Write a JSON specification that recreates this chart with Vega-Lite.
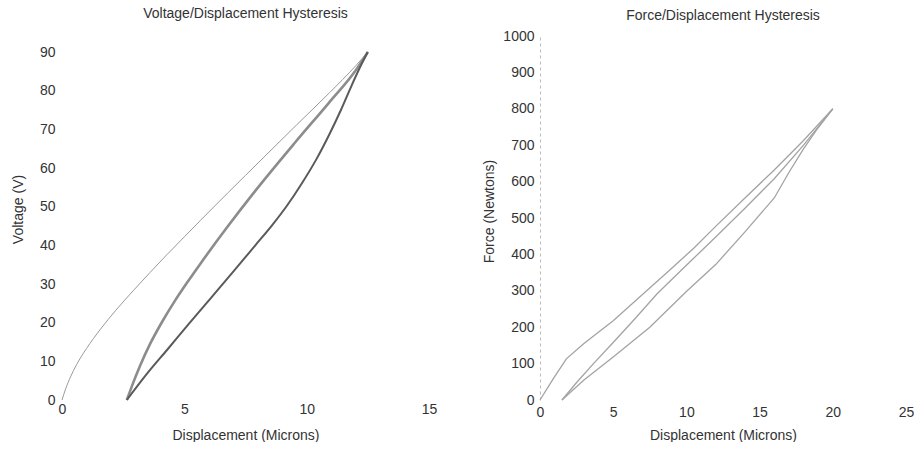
{
  "$schema": "https://vega.github.io/schema/vega-lite/v6.json",
  "background": "white",
  "padding": {"left": 11, "top": 7, "right": 0, "bottom": 0},
  "spacing": 45,
  "config": {
    "font": "Liberation Sans",
    "view": {"stroke": null},
    "axis": {
      "grid": false, "ticks": false, "domain": false,
      "labelFont": "Liberation Sans", "labelFontSize": 14, "labelColor": "#333",
      "titleFont": "Liberation Sans", "titleFontSize": 14, "titleColor": "#333", "titleFontWeight": "normal",
      "labelFlush": false, "labelOverlap": false
    },
    "title": {"font": "Liberation Sans", "fontSize": 14, "fontWeight": "normal", "color": "#333"}
  },
  "datasets": {
    "volt": [
      {"series": "initial", "disp": 0, "volt": 0},
      {"series": "initial", "disp": 0.15, "volt": 2.9},
      {"series": "initial", "disp": 0.35, "volt": 6.0},
      {"series": "initial", "disp": 0.6, "volt": 9.2},
      {"series": "initial", "disp": 1.0, "volt": 13.3},
      {"series": "initial", "disp": 1.57, "volt": 18.3},
      {"series": "initial", "disp": 2.2, "volt": 23.2},
      {"series": "initial", "disp": 2.93, "volt": 28.4},
      {"series": "initial", "disp": 3.6, "volt": 33.0},
      {"series": "initial", "disp": 4.29, "volt": 37.6},
      {"series": "initial", "disp": 5.0, "volt": 42.2},
      {"series": "initial", "disp": 5.65, "volt": 46.4},
      {"series": "initial", "disp": 6.2, "volt": 49.9},
      {"series": "initial", "disp": 6.8, "volt": 53.7},
      {"series": "initial", "disp": 7.5, "volt": 58.1},
      {"series": "initial", "disp": 8.22, "volt": 62.6},
      {"series": "initial", "disp": 9.58, "volt": 71.1},
      {"series": "initial", "disp": 10.94, "volt": 79.5},
      {"series": "initial", "disp": 12.0, "volt": 86.4},
      {"series": "initial", "disp": 12.5, "volt": 90},
      {"series": "upper", "disp": 2.65, "volt": 0},
      {"series": "upper", "disp": 2.9, "volt": 4.3},
      {"series": "upper", "disp": 3.2, "volt": 9.0},
      {"series": "upper", "disp": 3.6, "volt": 14.5},
      {"series": "upper", "disp": 4.1, "volt": 20.3},
      {"series": "upper", "disp": 4.6, "volt": 25.5},
      {"series": "upper", "disp": 5.15, "volt": 30.7},
      {"series": "upper", "disp": 5.65, "volt": 35.2},
      {"series": "upper", "disp": 6.74, "volt": 44.6},
      {"series": "upper", "disp": 7.85, "volt": 53.7},
      {"series": "upper", "disp": 9.5, "volt": 66.4},
      {"series": "upper", "disp": 10.9, "volt": 76.8},
      {"series": "upper", "disp": 12.0, "volt": 85.2},
      {"series": "upper", "disp": 12.5, "volt": 90},
      {"series": "lower", "disp": 2.65, "volt": 0},
      {"series": "lower", "disp": 3.5, "volt": 7.0},
      {"series": "lower", "disp": 4.3, "volt": 13.0},
      {"series": "lower", "disp": 5.2, "volt": 19.8},
      {"series": "lower", "disp": 6.1, "volt": 26.5},
      {"series": "lower", "disp": 7.0, "volt": 33.2},
      {"series": "lower", "disp": 7.9, "volt": 40.0},
      {"series": "lower", "disp": 8.6, "volt": 45.3},
      {"series": "lower", "disp": 9.2, "volt": 50.3},
      {"series": "lower", "disp": 9.8, "volt": 56.0},
      {"series": "lower", "disp": 10.4, "volt": 62.3},
      {"series": "lower", "disp": 10.95, "volt": 69.0},
      {"series": "lower", "disp": 11.4, "volt": 75.0},
      {"series": "lower", "disp": 11.8, "volt": 80.8},
      {"series": "lower", "disp": 12.2, "volt": 86.3},
      {"series": "lower", "disp": 12.5, "volt": 90}
    ],
    "force": [
      {"series": "upper", "disp": 0, "force": 0},
      {"series": "upper", "disp": 0.9, "force": 58},
      {"series": "upper", "disp": 1.8, "force": 113},
      {"series": "upper", "disp": 3, "force": 155},
      {"series": "upper", "disp": 5, "force": 218},
      {"series": "upper", "disp": 7, "force": 290},
      {"series": "upper", "disp": 9, "force": 362},
      {"series": "upper", "disp": 10.5, "force": 417},
      {"series": "upper", "disp": 12, "force": 477},
      {"series": "upper", "disp": 14, "force": 555},
      {"series": "upper", "disp": 16, "force": 632},
      {"series": "upper", "disp": 18, "force": 713},
      {"series": "upper", "disp": 20, "force": 800},
      {"series": "middle", "disp": 1.5, "force": 0},
      {"series": "middle", "disp": 2.5, "force": 48},
      {"series": "middle", "disp": 3.7, "force": 102},
      {"series": "middle", "disp": 5, "force": 158},
      {"series": "middle", "disp": 6.5, "force": 224},
      {"series": "middle", "disp": 8, "force": 292},
      {"series": "middle", "disp": 10, "force": 370},
      {"series": "middle", "disp": 12, "force": 448},
      {"series": "middle", "disp": 14, "force": 527},
      {"series": "middle", "disp": 16, "force": 608},
      {"series": "middle", "disp": 18, "force": 700},
      {"series": "middle", "disp": 20, "force": 800},
      {"series": "lower", "disp": 1.5, "force": 0},
      {"series": "lower", "disp": 3, "force": 55},
      {"series": "lower", "disp": 5, "force": 118},
      {"series": "lower", "disp": 7.5, "force": 200},
      {"series": "lower", "disp": 10, "force": 298},
      {"series": "lower", "disp": 12, "force": 372},
      {"series": "lower", "disp": 14, "force": 462},
      {"series": "lower", "disp": 16, "force": 555},
      {"series": "lower", "disp": 17, "force": 625},
      {"series": "lower", "disp": 18, "force": 690},
      {"series": "lower", "disp": 19, "force": 748},
      {"series": "lower", "disp": 20, "force": 800}
    ],
    "edge": [{"disp": 25}]
  },
  "hconcat": [
    {
      "width": 367,
      "height": 364,
      "title": {"text": "Voltage/Displacement Hysteresis", "offset": 15},
      "data": {"name": "volt"},
      "encoding": {
        "x": {"field": "disp", "type": "quantitative", "scale": {"domain": [0, 15], "nice": false},
              "axis": {"title": "Displacement (Microns)", "values": [0, 5, 10, 15], "labelPadding": 2, "titlePadding": 12}},
        "y": {"field": "volt", "type": "quantitative", "scale": {"domain": [0, 94.14], "nice": false, "zero": true},
              "axis": {"title": "Voltage (V)", "values": [0, 10, 20, 30, 40, 50, 60, 70, 80, 90], "labelPadding": 7,
                       "titleX": -44, "titleY": 173, "titleBaseline": "middle"}}
      },
      "layer": [
        {"transform": [{"filter": "datum.series === 'initial'"}],
         "mark": {"type": "line", "color": "#9a9a9a", "strokeWidth": 1, "interpolate": "monotone"}},
        {"transform": [{"filter": "datum.series === 'upper'"}],
         "mark": {"type": "line", "color": "#8c8c8c", "strokeWidth": 2.6, "interpolate": "monotone"}},
        {"transform": [{"filter": "datum.series === 'lower'"}],
         "mark": {"type": "line", "color": "#5a5a5a", "strokeWidth": 2, "interpolate": "monotone"}}
      ]
    },
    {
      "width": 366,
      "height": 364,
      "title": {"text": "Force/Displacement Hysteresis", "offset": 6},
      "layer": [
        {
          "data": {"name": "edge"},
          "mark": {"type": "rule", "color": "#aaaaaa", "strokeDash": [2, 3], "strokeWidth": 1},
          "encoding": {"x": {"field": "disp", "type": "quantitative"}}
        },
        {
          "data": {"name": "force"},
          "mark": {"type": "line", "color": "#a3a3a3", "strokeWidth": 1.3},
          "encoding": {
            "x": {"field": "disp", "type": "quantitative"},
            "y": {"field": "force", "type": "quantitative"},
            "detail": {"field": "series", "type": "nominal"}
          }
        }
      ],
      "encoding": {
        "x": {"field": "disp", "type": "quantitative", "scale": {"domain": [0, 25], "nice": false},
              "axis": {"title": "Displacement (Microns)", "values": [0, 5, 10, 15, 20, 25], "labelPadding": 5, "titlePadding": 9}},
        "y": {"field": "force", "type": "quantitative", "scale": {"domain": [0, 1000], "nice": false},
              "axis": {"title": "Force (Newtons)", "format": "d", "values": [0, 100, 200, 300, 400, 500, 600, 700, 800, 900, 1000],
                       "labelPadding": 6, "titleX": -51, "titleY": 175, "titleBaseline": "middle",
                       "domain": true, "domainColor": "#bbbbbb", "domainDash": [3, 3]}}
      }
    }
  ]
}
